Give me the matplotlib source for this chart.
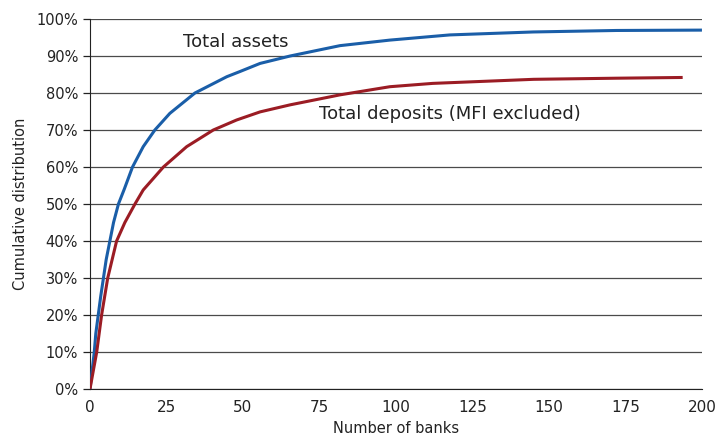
import matplotlib
matplotlib.use("Agg")
import matplotlib.pyplot as plt
from matplotlib.ticker import PercentFormatter

plt.rcParams['font.family'] = ['Liberation Sans Narrow', 'DejaVu Sans']

# datos
banks_assets = [0, 1.4, 1.9, 2.7, 3.5, 4.4, 5.3, 6.5, 7.7, 9.3, 11.2, 13.9, 17.4, 21.2, 26.1,
                34.3, 44.7, 49, 55.6, 65.4, 81.7, 98, 117.6, 144.9, 172, 200]
assets = [0, 10, 15, 20, 25, 30, 35, 40, 45, 50, 54, 60, 65.5, 70, 74.5,
          80, 84.4, 85.8, 88, 90, 92.8, 94.3, 95.7, 96.5, 96.9, 97]

banks_deposits = [0, 2.2, 3.8, 5.8, 8.7, 11.4, 14.7, 17.4, 24, 31.6, 40.3, 47.9, 55.6,
                  65.4, 81.7, 98, 112, 145, 172, 193.7]
deposits = [0, 10, 20, 30, 40, 45, 50, 53.8, 60, 65.5, 70, 72.7, 74.9,
            76.8, 79.5, 81.7, 82.6, 83.7, 84, 84.2]

y_ticks = list(range(0, 101, 10))
x_ticks = list(range(0, 201, 25))

fig = plt.figure(figsize=(7.17, 4.40), dpi=100)
ax = fig.add_axes([0.1255, 0.1159, 0.8535, 0.8409])

ax.plot(banks_assets, assets, color='#1a5ea8', lw=2.2, solid_capstyle='butt',
        solid_joinstyle='round', zorder=3)
ax.plot(banks_deposits, deposits, color='#9b1c24', lw=2.2, solid_capstyle='butt',
        solid_joinstyle='round', zorder=3)

ax.set_xlim(0, 200)
ax.set_ylim(0, 100)
ax.set_yticks(y_ticks)
ax.set_xticks(x_ticks)
ax.yaxis.set_major_formatter(PercentFormatter(decimals=0))
ax.grid(axis='y', color='#4a4a4a', lw=0.9)
ax.set_axisbelow(True)

for s in ['top', 'right']:
    ax.spines[s].set_visible(False)
ax.spines['left'].set_color('#222222')
ax.spines['bottom'].set_color('#222222')
ax.tick_params(axis='y', length=5, width=0.9, color='#222222', labelsize=10.5, labelcolor='#222222')
ax.tick_params(axis='x', length=0, pad=8, labelsize=11, labelcolor='#222222')

ax.set_xlabel('Number of banks', fontsize=10.5, color='#222222', labelpad=4)
ax.set_ylabel('Cumulative distribution', fontsize=10.5, color='#222222', labelpad=6)

ax.text(47.5, 93.7, 'Total assets', fontsize=13, color='#222222', ha='center', va='center')
ax.text(117.5, 74.2, 'Total deposits (MFI excluded)', fontsize=13, color='#222222',
        ha='center', va='center')

fig.savefig('out.png', dpi=100)
